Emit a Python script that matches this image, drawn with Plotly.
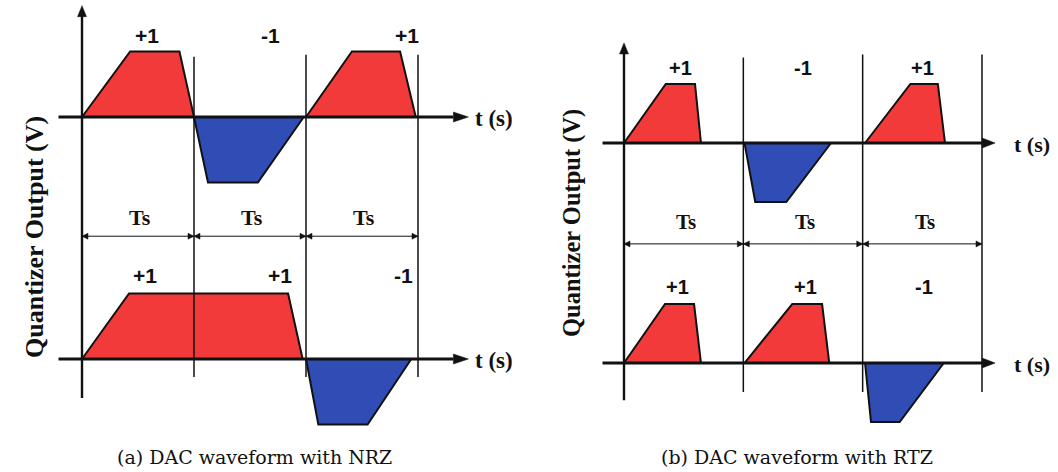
import plotly.graph_objects as go

# ---- waveform data: time in units of Ts, level in units of full scale ----
nrz_top_bits = [+1, -1, +1]
nrz_top_pulses = [(+1, [0.00, 0.43, 0.87, 1.00]),
                  (-1, [1.00, 1.125, 1.57, 1.98]),
                  (+1, [2.00, 2.41, 2.84, 2.98])]

nrz_bot_bits = [+1, +1, -1]
nrz_bot_pulses = [(+1, [0.00, 0.42, 1.84, 1.97]),
                  (-1, [2.00, 2.11, 2.55, 2.94])]

rtz_top_bits = [+1, -1, +1]
rtz_top_pulses = [(+1, [0.00, 0.35, 0.595, 0.645]),
                  (-1, [1.01, 1.10, 1.36, 1.735]),
                  (+1, [2.02, 2.40, 2.63, 2.69])]

rtz_bot_bits = [+1, +1, -1]
rtz_bot_pulses = [(+1, [0.00, 0.344, 0.587, 0.645]),
                  (+1, [1.01, 1.41, 1.66, 1.72]),
                  (-1, [2.02, 2.07, 2.31, 2.68])]

period_edges = [0, 1, 2, 3]
period_text = "Ts"
time_text = "t (s)"
y_title = "Quantizer Output (V)"
captions = ["(a) DAC waveform with NRZ", "(b) DAC waveform with RTZ"]

RED = "#f33a3a"
BLUE = "#2f4db5"
INK = "#111111"

W, H = 1058, 472

# per-panel layout (px scales used only to size arrowheads / place text)
panels = [
    dict(xa="x", ya="y", dom=[0.0, 0.5], sx=112.0, sy=65.5, x0px=82, base_px=117,
         low=-3.695, top=(nrz_top_pulses, nrz_top_bits), bot=(nrz_bot_pulses, nrz_bot_bits),
         bit_x_top=[0.58, 1.68, 2.90], bit_x_bot=[0.56, 1.77, 2.87],
         bit_y_top=1.25, bit_y_bot=1.28, ts_y=-1.54, dim_y=-1.82,
         axis_top=1.70, axis_bot=-4.29, edge_tops=[0.92, 0.95, 0.95], edge_bot=-3.97,
         base_start=-0.21, base_tip=3.45, head=(15, 5), t_x=3.68,
         ts_size=22, t_size=23, bit_size=21),
    dict(xa="x2", ya="y2", dom=[0.5, 1.0], sx=119.33, sy=59.0, x0px=624, base_px=143,
         low=-3.729, top=(rtz_top_pulses, rtz_top_bits), bot=(rtz_bot_pulses, rtz_bot_bits),
         bit_x_top=[0.47, 1.50, 2.50], bit_x_bot=[0.45, 1.52, 2.51],
         bit_y_top=1.27, bit_y_bot=1.29, ts_y=-1.34, dim_y=-1.71,
         axis_top=1.695, axis_bot=-4.36, edge_tops=[1.45, 1.50, 1.50], edge_bot=-4.22,
         base_start=-0.18, base_tip=3.11, head=(13, 5), t_x=3.42,
         ts_size=21, t_size=22, bit_size=20),
]

fig = go.Figure()
annotations = []


def poly(xs, ys, xa, ya, fill, lw=2.0, lc=INK):
    fig.add_trace(go.Scatter(x=xs, y=ys, xaxis=xa, yaxis=ya, mode="lines",
                             fill="toself", fillcolor=fill,
                             line=dict(color=lc, width=lw),
                             hoverinfo="skip", showlegend=False))


def line(xs, ys, xa, ya, lw):
    fig.add_trace(go.Scatter(x=xs, y=ys, xaxis=xa, yaxis=ya, mode="lines",
                             line=dict(color=INK, width=lw),
                             hoverinfo="skip", showlegend=False))


def text(x, y, s, xa, ya, family, size, bold=True):
    annotations.append(dict(x=x, y=y, xref=xa, yref=ya, text=s, showarrow=False,
                            font=dict(family=family, size=size, color=INK,
                                      weight="bold" if bold else "normal"),
                            xanchor="center", yanchor="middle"))


for p in panels:
    xa, ya = p["xa"], p["ya"]
    sx, sy = p["sx"], p["sy"]

    # pulses (filled trapezoids) for both rows
    for (pulses, _), off in ((p["top"], 0.0), (p["bot"], p["low"])):
        for bit, ts in pulses:
            levels = [0, bit, bit, 0]
            poly(ts + [ts[0]], [off + v for v in levels] + [off], xa, ya,
                 RED if bit > 0 else BLUE)

    # period boundaries
    for e, et in zip(period_edges[1:], p["edge_tops"]):
        line([e, e], [et, p["edge_bot"]], xa, ya, 1.5)

    # vertical (voltage) axis with arrowhead
    line([0, 0], [p["axis_bot"], p["axis_top"] - 9 / sy], xa, ya, 2.4)
    hw, hl = 4.5 / sx, 11 / sy
    poly([-hw, hw, 0, -hw], [p["axis_top"] - hl, p["axis_top"] - hl, p["axis_top"],
                             p["axis_top"] - hl], xa, ya, INK, lw=0.5)

    # time axes with arrowheads
    L, hh = p["head"]
    for off in (0.0, p["low"]):
        line([p["base_start"], p["base_tip"] - L / sx], [off, off], xa, ya, 2.8)
        tip = p["base_tip"]
        poly([tip - L / sx, tip, tip - L / sx, tip - L / sx],
             [off + hh / sy, off, off - hh / sy, off + hh / sy], xa, ya, INK, lw=0.5)
        text(p["t_x"], off - 0.02, time_text, xa, ya, "Liberation Serif", p["t_size"])

    # period dimension arrows
    dy = p["dim_y"]
    aL, aH = 6 / sx, 3 / sy
    for a, b in zip(period_edges[:-1], period_edges[1:]):
        line([a, b], [dy, dy], xa, ya, 1.0)
        poly([a, a + aL, a + aL, a], [dy, dy + aH, dy - aH, dy], xa, ya, INK, lw=0.5)
        poly([b, b - aL, b - aL, b], [dy, dy + aH, dy - aH, dy], xa, ya, INK, lw=0.5)
        text((a + b) / 2 + 0.02, p["ts_y"], period_text, xa, ya, "Liberation Serif",
             p["ts_size"])

    # bit value labels
    for bx, bit in zip(p["bit_x_top"], p["top"][1]):
        text(bx, p["bit_y_top"], "+1" if bit > 0 else "-1", xa, ya, "Liberation Sans",
             p["bit_size"])
    for bx, bit in zip(p["bit_x_bot"], p["bot"][1]):
        text(bx, p["low"] + p["bit_y_bot"], "+1" if bit > 0 else "-1", xa, ya,
             "Liberation Sans", p["bit_size"])

# y-axis titles and captions
for cx, cy, size in ((34, 237, 26), (572, 223, 24.5)):
    annotations.append(dict(x=cx / W, y=1 - cy / H, xref="paper", yref="paper",
                            text=y_title, textangle=-90, showarrow=False,
                            font=dict(family="Liberation Serif", size=size, color=INK,
                                      weight="bold"),
                            xanchor="center", yanchor="middle"))
for cx, cap in zip((254, 797), captions):
    annotations.append(dict(x=cx / W, y=1 - 457 / H, xref="paper", yref="paper",
                            text=cap, showarrow=False,
                            font=dict(family="DejaVu Serif", size=19, color=INK),
                            xanchor="center", yanchor="middle"))

layout_axes = {}
for i, p in enumerate(panels):
    sfx = "" if i == 0 else str(i + 1)
    d0, d1 = p["dom"]
    px0, px1 = d0 * W, d1 * W
    xr = [(px0 - p["x0px"]) / p["sx"], (px1 - p["x0px"]) / p["sx"]]
    yr = [-(H - p["base_px"]) / p["sy"], p["base_px"] / p["sy"]]
    layout_axes["xaxis" + sfx] = dict(domain=p["dom"], range=xr, visible=False,
                                      anchor="y" + sfx, fixedrange=True)
    layout_axes["yaxis" + sfx] = dict(domain=[0, 1], range=yr, visible=False,
                                      anchor="x" + sfx, fixedrange=True)

fig.update_layout(width=W, height=H, margin=dict(l=0, r=0, t=0, b=0, pad=0),
                  paper_bgcolor="white", plot_bgcolor="white",
                  showlegend=False, annotations=annotations, **layout_axes)

fig.write_html("out.html", config=dict(displayModeBar=False))
